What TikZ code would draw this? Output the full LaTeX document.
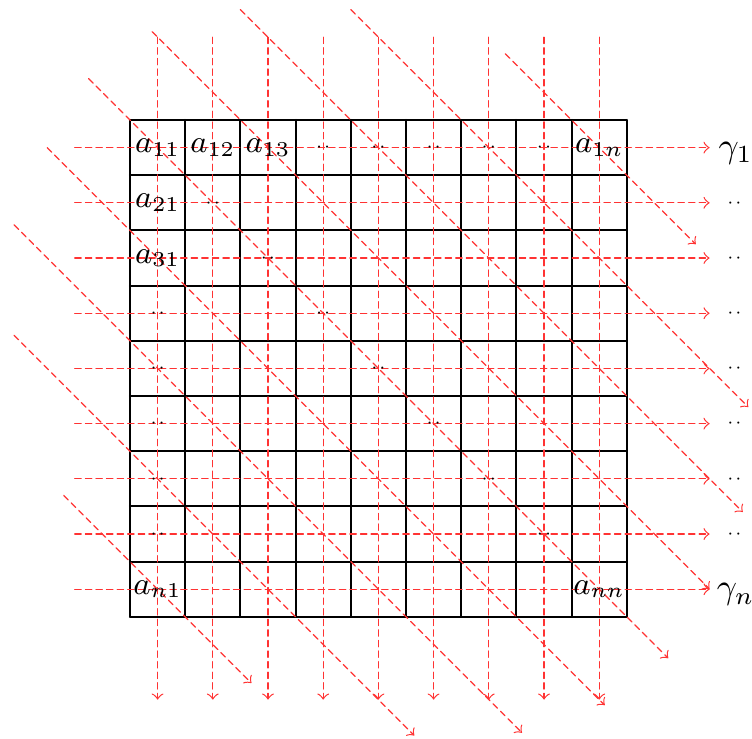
\documentclass[tikz,border=0pt]{standalone}
\usepackage{amsmath}
\usepackage{amssymb}
\tikzset{
  ent/.style={inner sep=0pt,font=\small},
  dd/.style={inner sep=0pt,font=\tiny},
  rd/.style={red!80,line width=0.35pt,dash pattern=on 1.8pt off 1.2pt,->},
  every picture/.style={line cap=round,line join=round}}

\begin{document}
\begin{tikzpicture}[x=0.55cm,y=0.55cm]
  \useasboundingbox (-2.355,2.174) rectangle (11.268,-11.196);
  \draw[semithick,step=1] (0,0) grid (9,-9);
  \foreach \i in {0.5,1.5,...,8.5}{
    \draw[rd] (-1,-\i) -- (10.5,-\i);
    \draw[rd] (\i,1.5) -- (\i,-10.5);}
  \foreach \s/\e in {{6.8,1.2}/{10.25,-2.25},{4,2}/{11.2,-5.2},
      {2,2}/{11.1,-7.1},{0.4,1.6}/{10.5,-8.5},{-0.75,0.75}/{9.75,-9.75},
      {-1.5,-0.5}/{8.6,-10.6},{-2.1,-1.9}/{7.1,-11.1},
      {-2.1,-3.9}/{5.15,-11.15},{-1.2,-6.8}/{2.2,-10.2}}
    \draw[rd] (\s) -- (\e);
  % entries
  \node[ent] (a11) at (0.5,-0.5){$a_{11}$};
  \node[ent] (a12) at (1.5,-0.5){$a_{12}$};
  \node[ent] (a13) at (2.5,-0.5){$a_{13}$};
  \node[ent] (a1n) at (8.5,-0.5){$a_{1n}$};
  \node[ent] (a21) at (0.5,-1.5){$a_{21}$};
  \node[ent] (a31) at (0.5,-2.5){$a_{31}$};
  \node[ent] (an1) at (0.5,-8.5){$a_{n1}$};
  \node[ent] (ann) at (8.5,-8.5){$a_{nn}$};
  \foreach \j in {4,...,8}
    \node[dd] (r\j) at (\j-0.5,-0.5){${\cdot}{\cdot}$};
  \foreach \j in {2,...,8}
    \node[dd] (d\j) at (\j-0.5,-\j+0.5){${\cdot}{\cdot}$};
  \foreach \j in {4,...,8}
    \node[dd] (c\j) at (0.5,-\j+0.5){${\cdot}{\cdot}$};
  % row labels
  \node[ent,font=\normalsize] (g1) at (10.97,-0.6){$\gamma_1$};
  \foreach \j in {2,...,8}
    \node[dd] (g\j) at (10.95,-\j+0.5){${\cdot}{\cdot}$};
  \node[ent,font=\normalsize] (gn) at (10.97,-8.6){$\gamma_n$};
\end{tikzpicture}
\end{document}
